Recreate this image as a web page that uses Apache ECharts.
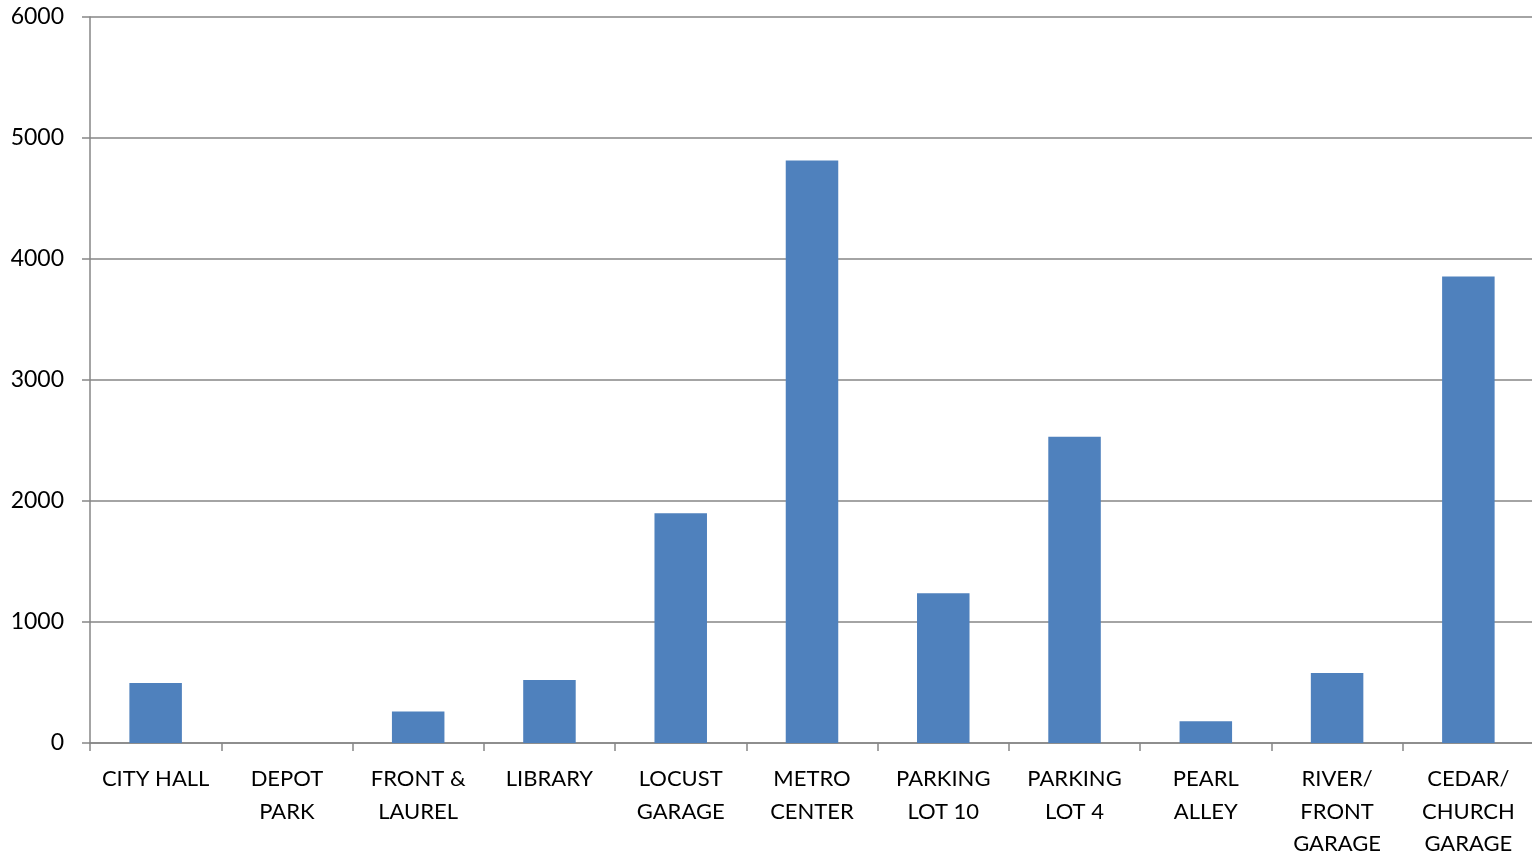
<!DOCTYPE html>
<html><head><meta charset="utf-8">
<script src="https://cdn.jsdelivr.net/npm/echarts@6/dist/echarts.min.js"></script>
<style>html,body{margin:0;padding:0;background:#fff}#c{width:1532px;height:855px}</style>
</head><body><div id="c"></div>
<script>
const categories = ['CITY HALL','DEPOT\nPARK','FRONT &\nLAUREL','LIBRARY','LOCUST\nGARAGE','METRO\nCENTER','PARKING\nLOT 10','PARKING\nLOT 4','PEARL\nALLEY','RIVER/\nFRONT\nGARAGE','CEDAR/\nCHURCH\nGARAGE'];
const values = [495, 0, 260, 520, 1898, 4815, 1238, 2532, 180, 578, 3855];
const yTicks = {min: 0, max: 6000, interval: 1000};

const chart = echarts.init(document.getElementById('c'));
chart.setOption({
  animation: false,
  grid: {left: 90, right: -2, top: 17, bottom: 112, containLabel: false, outerBoundsMode: 'none'},
  xAxis: {
    type: 'category', data: categories,
    axisLine: {lineStyle: {color: '#868686', width: 1.5}},
    axisTick: {show: true, length: 8, lineStyle: {color: '#868686', width: 1.5}},
    axisLabel: {color: '#000', fontFamily: 'Lato', fontSize: 22, lineHeight: 32.5, margin: 20, interval: 0}
  },
  yAxis: {
    type: 'value', min: yTicks.min, max: yTicks.max, interval: yTicks.interval,
    axisLine: {show: true, lineStyle: {color: '#868686', width: 1.5}},
    axisTick: {show: true, length: 8, lineStyle: {color: '#868686', width: 1.5}},
    splitLine: {lineStyle: {color: '#868686', width: 1.5}},
    axisLabel: {color: '#000', fontFamily: 'Lato', fontSize: 23, margin: 26, formatter: v => String(v)}
  },
  series: [{
    type: 'bar', data: values, barWidth: '40%',
    itemStyle: {color: '#4F81BD'}
  }]
});
</script></body></html>
